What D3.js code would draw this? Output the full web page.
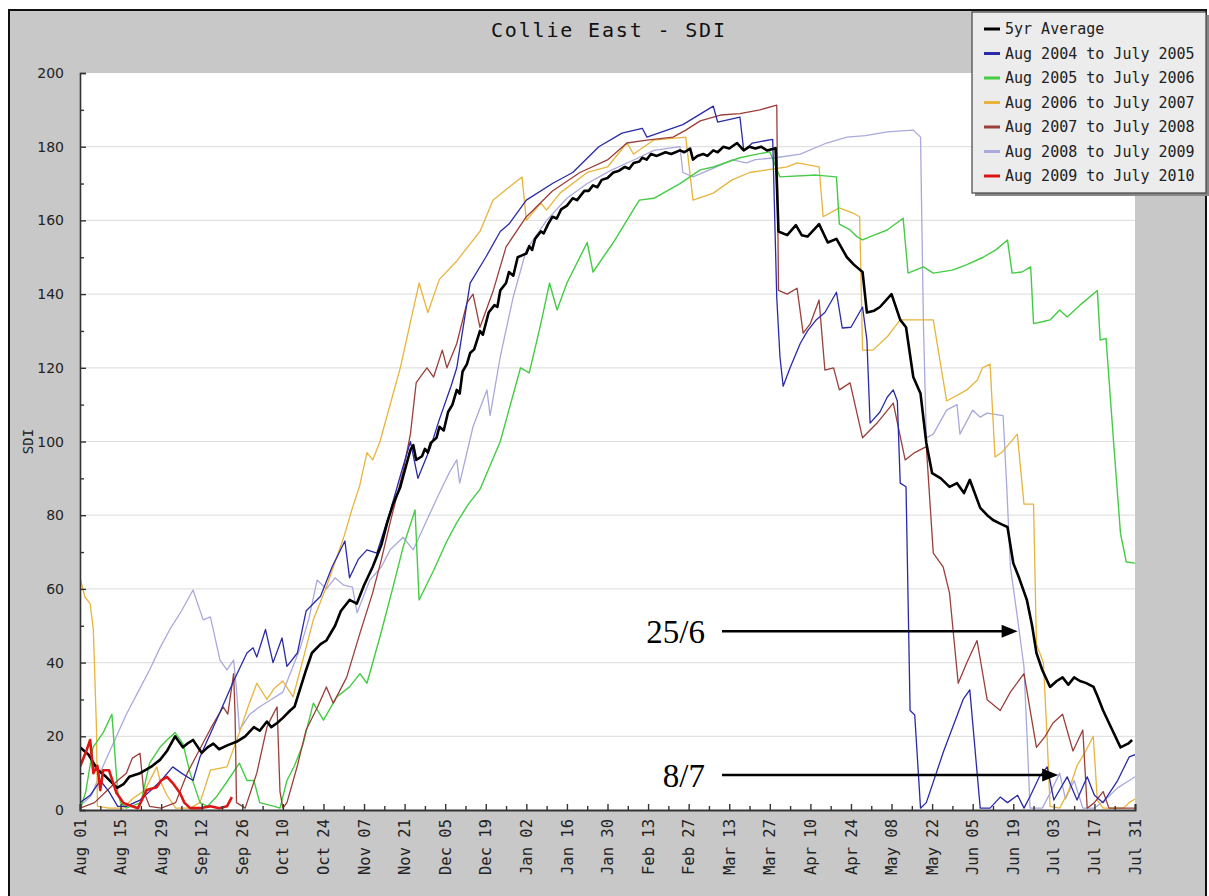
<!DOCTYPE html>
<html>
<head>
<meta charset="utf-8">
<script src="https://cdn.jsdelivr.net/npm/d3@7"></script>
<style>
  html, body { margin: 0; padding: 0; background: #ffffff; }
  svg { display: block; }
</style>
</head>
<body>
<svg id="chart" width="1209" height="896"></svg>
<script>
// Days are counted from Aug 01 (day 0) to Jul 31 (day 364); values are SDI.
const xTickLabels = ["Aug 01","Aug 15","Aug 29","Sep 12","Sep 26","Oct 10","Oct 24","Nov 07","Nov 21",
  "Dec 05","Dec 19","Jan 02","Jan 16","Jan 30","Feb 13","Feb 27","Mar 13","Mar 27","Apr 10","Apr 24",
  "May 08","May 22","Jun 05","Jun 19","Jul 03","Jul 17","Jul 31"];
const yTicks = [0, 20, 40, 60, 80, 100, 120, 140, 160, 180, 200];

const seriesNames = ["5yr Average","Aug 2004 to July 2005","Aug 2005 to July 2006","Aug 2006 to July 2007",
  "Aug 2007 to July 2008","Aug 2008 to July 2009","Aug 2009 to July 2010"];

const avg5yr = [[0,17],[3,15],[6,11],[9,9],[12.8,6],[15,7],[17,9],[20.7,10],[23,11],[25,12],[27.6,13.6],[30,16],
  [32.8,20],[35.5,17],[37,18],[39,19],[42,15.5],[44,17],[46,18],[48,16.5],[51,17.6],[54,18.5],[57,20],[60,22.5],
  [62,21.5],[64.5,24],[66,22.5],[68,23.6],[70,25],[72.5,27],[74,28],[76,33],[78,38],[80,42.6],[83,45],[85,46],
  [88,50],[90,54],[93,57],[95.5,56],[98,61],[101,66],[104,72],[106,78],[108,83],[110.5,87.6],[112,92],[114,97.7],
  [115,99],[116,95],[118,96],[119,98],[120,97],[121,99.6],[123,101],[124,104],[125.5,103],[127,108],[128.5,110],
  [130,114],[131,113],[132,119],[133.5,121],[134.6,124],[136,125],[138,130],[139,129],[141,135],[143,137],
  [144,136.5],[145,141],[147,143],[148,146],[149.5,145],[151,150],[152.5,150.5],[154,151],[155,153],[156,152],
  [157,155],[159,157],[160,156.5],[161.5,159],[163,161],[164.5,160.5],[166,163],[168,164],[170,166],[171.5,165.5],
  [174,168],[175.5,168],[177,169.5],[178.5,169],[180,171],[182,171.5],[184,173],[186,173.5],[188,174.5],
  [189.5,174],[191,175.6],[193,176],[194,177],[195.5,176.5],[197,178],[199,177.5],[202,178.5],[204,178],
  [207,179],[208.5,178.5],[210.5,179.5],[211.5,176.5],[213,177.5],[215,178],[216.5,177.5],[218.5,179],
  [220,178.5],[222,180],[224,179.5],[226.7,181],[229,179],[231,180],[233,179.5],[235,180],[237,179],[240,179.6],
  [241,157],[244,156],[247,158.7],[249,156],[251,155.6],[255,159],[258,154],[261,155],[264.6,150],[267,148],
  [270,146],[271.5,135],[274,135.5],[276,136.5],[280,140],[283,133],[285,131],[287.5,117.5],[290,113],
  [292,99.6],[294,91.4],[297,90],[300,87.7],[302.6,88.7],[305,86],[307,89.6],[310.6,82],[313,80],[315,78.7],
  [318,77.5],[320,76.8],[322,67],[324,63],[326.7,57],[328.5,50],[330,42.6],[332,38],[334.7,33.4],[337,35],
  [339,36],[341,34],[343,36],[345,35],[347,34.5],[349.7,33.4],[351,31],[353,27],[356,22],[359,17],[361.6,18],
  [363,19]];

const sdi2004 = [[0,2],[3.5,4],[7,8],[10,5],[13,1],[16,1],[20.7,2.7],[24,5],[28,8],[32,11.7],[35,10],[39,8],
  [41.4,14.4],[44,19],[48,26],[53,35],[57.6,42.6],[59.7,44],[61,41.5],[64,49],[66.6,40],[69.7,46.7],[71.4,39],
  [75,42.6],[78,54],[83,58],[87,66],[91.4,73],[93,63],[96,68],[99,70.6],[102.4,69.7],[107,81],[111,92],[114,100],
  [116.6,90],[121,98.6],[124,106],[128,115],[130,120],[134.6,143],[140,150],[145,157],[148,159],[154,165.5],
  [163,170],[170,173],[179,180],[187,183.7],[194,185],[195.6,182.6],[208,186],[218.5,191],[220,186.7],[227.7,188],
  [229,179],[232,181],[239,182],[240.4,139],[241.5,123],[242.6,115],[245,120],[248.5,126.6],[251,130],[254,133],
  [257,135],[261,140.5],[263,130.8],[266,131],[270,136.5],[271.5,127.5],[272.6,105],[276,108],[278.5,112],
  [280.6,114],[282,111],[283,88.7],[285,87.7],[286.4,27],[288,25.8],[290,0.5],[292,2],[298,16],[304.7,30],
  [307,32.6],[310.6,0.5],[314,0.5],[317.5,3.5],[320,2],[323.5,4],[325.7,0.5],[328,4],[331,9],[333.7,11.7],
  [336,2.7],[340.6,9],[344,2.7],[347.5,9],[350,4],[353,2],[358,8],[362,14.4],[364,15]];

const sdi2005 = [[0,0],[2,5],[4.5,17],[8,21],[11,26],[13,5],[14,2],[16,0.5],[21,2],[24,12.7],[27.6,17],[30,19],
  [32.8,21],[35.5,18],[38,10],[41.4,2],[44,1],[47,3.5],[51,8],[55,12.7],[57.6,8],[60,8],[62,2],[67,1],[69,0.5],
  [71.4,8],[74,12],[77,18],[80.5,29],[84,24.4],[88.6,30.7],[93,33.4],[96.6,37],[99,34.4],[103.5,47],[108,60.5],
  [111.5,71.4],[115.6,81.4],[117,57],[122,65],[126.6,73],[130,78],[134,83],[138,87],[145,100],[152,120],
  [155,118.6],[159,132],[162,143],[164.6,135.7],[168,143],[175,154],[177,146],[184,154],[191,163],[193,165.5],
  [198,166],[207,170],[214,173.7],[218.5,174.5],[227.7,177],[233.6,178],[238,178.6],[241.5,171.8],[254,172.3],
  [261,171.8],[262,159],[265.7,157.4],[268,155.6],[270,154.7],[274,156],[278.5,157.4],[284,160.6],[285.7,145.7],
  [291,147.4],[294.4,145.7],[301,146.5],[306,148],[311.6,150],[316,152],[320,154.7],[321.6,145.7],[325,146],
  [328,147.4],[329,132],[332,132.5],[334.7,133],[338,135.7],[340.6,133.8],[345,137],[351,141],[352,127.5],
  [354,128],[356.6,100],[359,75],[361,67.3],[364,67]];

const sdi2006 = [[0,63],[1.7,57.8],[3.5,56],[4.6,49],[5.7,21.7],[6,1],[10,0.5],[15,0.5],[18,3],[22.4,5.4],
  [26.5,11.7],[27.6,8],[30,4],[33,0.5],[38,0.5],[41.4,2],[45,10.8],[50.7,11.7],[55,21],[58,28],[61,34.4],
  [64.5,30],[67,33],[70,35],[73.5,30.7],[76,38],[80.5,51.6],[85,60.5],[91,74],[94,82],[96.5,88],[99,97],[101,95],
  [103.5,100],[110.5,120],[117,143],[120,135],[124,144],[130,149],[138,157],[142.5,165.5],[148,169],[152.5,171.8],
  [154,160],[159,164.7],[161,162.8],[165.6,167.4],[175,173],[182,174.5],[188.7,181],[191,178],[198,181.8],
  [209,182.6],[211.5,165.5],[218.5,167.4],[225,171],[231,173],[237,173.7],[244,174.5],[247.4,175.6],[255,174.5],
  [256.4,161],[262,163.4],[266.7,162],[269,161],[270,124.8],[273.6,124.8],[278.5,128.4],[283,133],[287.5,133],
  [294.4,133],[299,111],[306,114],[309.6,116.7],[311.4,120],[314,121],[315.7,95.8],[318,97],[323.4,102],
  [325.7,83],[329,83],[330,45],[332.4,40],[333.6,21],[334.7,1],[338,0.5],[341,5],[344,12],[347,16],[349.6,20],
  [351,2.7],[353,0.5],[360,0.5],[362,2],[364,3]];

const sdi2007 = [[0,0.5],[5,2],[9,5],[13,8],[16,10],[18,14],[20.7,15.4],[22,5],[24,1],[28,0.5],[33,2],[37,10],
  [41,16],[45,22],[49.4,28],[51,26],[53,37],[53.5,26],[54,2],[57,0.5],[61,10],[64.5,22.5],[66,25],[68,28],[69,5],
  [70,0.5],[71.4,2],[75,12],[78,21.7],[82,28],[85,33.4],[87.4,29],[92,36],[96.6,48],[101,59],[104,68],[107,78],
  [111.5,92],[114,102],[116,116],[119.7,120],[122,117.5],[125,124.8],[126.6,120],[130,126.6],[133.5,137.6],
  [135.6,140],[138,131],[142.6,141],[147,152.8],[154,161],[156.4,162.8],[163,168],[172.5,173],[182,176.4],
  [188.7,181],[195.6,181.8],[204.6,182.6],[209,184.5],[214,187],[221,188.6],[227.7,189],[234.6,190],[240.4,191.3],
  [241,141],[244,140],[247.4,141.6],[249.5,129.4],[252,132],[255,138.4],[257,119.4],[260,120],[262,114],
  [265.7,115.9],[270,101],[275,105],[280.6,110.4],[284.7,95],[288,97],[292,98.6],[294.4,69.7],[297.8,66],
  [300,58.9],[303,34.4],[306,40],[309.5,46],[313,29.9],[317.5,27],[321,32],[325.7,37],[330,17],[333,20],
  [335.7,23.6],[339,26],[342.6,16],[346,21.7],[347.5,0.5],[350,2],[353,5],[355,0.5],[364,0.5]];

const sdi2008 = [[0,1],[4,4],[8,12],[12,19],[16,26],[20,32],[24,38],[27.6,44],[31,49],[35,54],[39,59.7],
  [42.5,51.6],[45,52.4],[48.3,40.7],[50.7,38],[53,40.7],[54,32.6],[55,21.7],[58.6,26],[62,28],[66,30],[70,32],
  [73,38],[76,44],[79,52],[81.8,62.4],[85,60],[88,63],[91,61],[94,60.5],[95.6,53.5],[100,62.4],[104,66],
  [107,70.6],[111.5,74],[115,70.6],[119.7,78.7],[124,86],[127.7,92],[130,95],[131,88.7],[135.6,104],[140.4,114],
  [141.5,107],[145,123],[149.4,139],[154,152],[161,160],[168,166],[175,170],[183,173.5],[191,176.4],[198,179],
  [207,180],[208,173],[211.5,171.8],[218,174],[225,176.4],[230,175.6],[233,176.5],[240,177],[248.5,178],
  [257.6,181],[264.6,182.6],[271,183],[278.5,184],[287.5,184.5],[290,182.6],[291,132],[292,101],[294.4,102],
  [299,108.5],[302.6,110],[303.6,102],[308,108.5],[310.6,106.6],[313,107.7],[318.5,107],[319.8,86.8],[321,66],
  [323.4,52.4],[325.7,38.8],[326.7,21],[327.8,0.5],[332,0.5],[335,5],[338,10],[340,3],[343,8],[346,0.5],
  [350,0.5],[354,3],[358,6],[362,8],[364,9]];

const sdi2009 = [[0,11.7],[2.3,16.3],[3.5,19],[4.6,10],[6,12],[7,5.4],[8,10.8],[10,10.8],[12.6,4.6],[15,1.9],
  [18,1],[20,0.5],[23,5.4],[26.5,6.2],[28,8],[30,9],[32,7.3],[34.5,4.6],[36,2],[38,0.5],[41.4,0.5],[45,1],
  [48,0.5],[50.7,1],[52.4,3.5]];

const seriesData = [avg5yr, sdi2004, sdi2005, sdi2006, sdi2007, sdi2008, sdi2009];
const seriesColors = ["#000000", "#2a2aa8", "#44cc44", "#e8b43c", "#9a3f3a", "#a9a9dc", "#dd1515"];
const seriesWidths = [2.6, 1.3, 1.4, 1.3, 1.3, 1.3, 2.6];
// draw order: thin lines first, thick lines on top
const drawOrder = [5, 3, 2, 4, 1, 0, 6];

// annotation arrows: label, tip day, y value of the arrow
const noteLabels = ["25/6", "8/7"];
const noteTipDays = [323.5, 337.5];
const noteYValues = [48.5, 9.5];

const svg = d3.select("#chart");
const W = 1209, H = 896;
const plot = { left: 80, right: 1135, top: 73, bottom: 810 };

const x = d3.scaleLinear().domain([0, 364]).range([plot.left, plot.right]);
const y = d3.scaleLinear().domain([0, 200]).range([plot.bottom, plot.top]);

// frame
svg.append("rect").attr("x", 0).attr("y", 0).attr("width", W).attr("height", H).attr("fill", "#ffffff");
svg.append("rect").attr("x", 9).attr("y", 10).attr("width", 1197).attr("height", 900)
  .attr("fill", "#c8c8c8").attr("stroke", "#111").attr("stroke-width", 2);

// plot area
svg.append("rect").attr("x", plot.left).attr("y", plot.top)
  .attr("width", plot.right - plot.left).attr("height", plot.bottom - plot.top).attr("fill", "#ffffff");

// grid
svg.append("g").selectAll("line").data(yTicks.filter(v => v > 0 && v < 200)).join("line")
  .attr("x1", plot.left).attr("x2", plot.right)
  .attr("y1", d => y(d)).attr("y2", d => y(d))
  .attr("stroke", "#e2e2e2").attr("stroke-width", 1.2);

// series
svg.append("clipPath").attr("id", "clip").append("rect")
  .attr("x", plot.left).attr("y", plot.top - 2)
  .attr("width", plot.right - plot.left).attr("height", plot.bottom - plot.top + 2);

const line = d3.line().x(d => x(d[0])).y(d => y(d[1]));
const lines = svg.append("g").attr("clip-path", "url(#clip)");
drawOrder.forEach(i => {
  lines.append("path").datum(seriesData[i])
    .attr("d", line).attr("fill", "none")
    .attr("stroke", seriesColors[i]).attr("stroke-width", seriesWidths[i])
    .attr("stroke-linejoin", "round");
});

// y axis
const yAxis = svg.append("g").attr("transform", `translate(${plot.left},0)`)
  .call(d3.axisRight(y).tickValues(d3.range(0, 201, 10)).tickSize(6).tickFormat(""));
yAxis.select(".domain").attr("stroke", "#333").attr("stroke-width", 1.6);
yAxis.selectAll(".tick line").attr("stroke", "#333").attr("stroke-width", 1.4)
  .attr("x2", d => d % 20 === 0 ? 6 : 4);
svg.append("g").selectAll("text").data(yTicks).join("text")
  .attr("x", plot.left - 16).attr("y", d => y(d)).attr("dy", "0.36em")
  .attr("text-anchor", "end").attr("font-family", "DejaVu Sans, sans-serif")
  .attr("font-size", 14).attr("fill", "#222").text(d => d);

svg.append("text")
  .attr("transform", `translate(33,${(plot.top + plot.bottom) / 2}) rotate(-90)`)
  .attr("text-anchor", "middle").attr("font-family", "DejaVu Sans Mono, monospace")
  .attr("font-size", 14).attr("fill", "#222").text("SDI");

// x axis
const xAxis = svg.append("g").attr("transform", `translate(0,${plot.bottom})`)
  .call(d3.axisTop(x).tickValues(d3.range(0, 365, 7)).tickSize(6).tickFormat(""));
xAxis.select(".domain").attr("stroke", "#333").attr("stroke-width", 2);
xAxis.selectAll(".tick line").attr("stroke", "#333").attr("stroke-width", 1.4)
  .attr("y2", d => d % 14 === 0 ? -6 : -4);
svg.append("g").selectAll("text").data(xTickLabels).join("text")
  .attr("transform", (d, i) => `translate(${x(i * 14)},${plot.bottom + 9}) rotate(-90)`)
  .attr("dy", "0.36em").attr("text-anchor", "end")
  .attr("font-family", "DejaVu Sans Mono, monospace").attr("font-size", 15.5)
  .attr("fill", "#222").text(d => d);

// title
svg.append("text").attr("x", 608).attr("y", 37).attr("text-anchor", "middle")
  .attr("font-family", "DejaVu Sans Mono, monospace").attr("font-size", 20)
  .attr("textLength", 234).attr("lengthAdjust", "spacing")
  .attr("fill", "#111").text("Collie East - SDI");

// legend
const lg = svg.append("g");
lg.append("rect").attr("x", 975).attr("y", 15).attr("width", 235).attr("height", 181).attr("fill", "#888");
lg.append("rect").attr("x", 972).attr("y", 12).attr("width", 234).attr("height", 181)
  .attr("fill", "#ececec").attr("stroke", "#444").attr("stroke-width", 1.2);
seriesNames.forEach((name, i) => {
  const cy = 29 + i * 24.5;
  lg.append("line").attr("x1", 984).attr("x2", 1000).attr("y1", cy).attr("y2", cy)
    .attr("stroke", seriesColors[i]).attr("stroke-width", 3);
  lg.append("text").attr("x", 1005).attr("y", cy).attr("dy", "0.36em")
    .attr("font-family", "DejaVu Sans Mono, monospace").attr("font-size", 15)
    .attr("fill", "#222").text(name);
});

// annotations
const notes = svg.append("g");
noteLabels.forEach((label, i) => {
  const yy = y(noteYValues[i]);
  const tip = x(noteTipDays[i]);
  notes.append("text").attr("x", 705).attr("y", yy).attr("dy", "0.35em")
    .attr("text-anchor", "end").attr("font-family", "Liberation Serif, Times New Roman, serif")
    .attr("font-size", 33).attr("fill", "#000").text(label);
  notes.append("line").attr("x1", 722).attr("x2", tip - 14).attr("y1", yy).attr("y2", yy)
    .attr("stroke", "#000").attr("stroke-width", 2.5);
  notes.append("path")
    .attr("d", `M${tip},${yy} L${tip - 16},${yy - 6.5} L${tip - 16},${yy + 6.5} Z`)
    .attr("fill", "#000");
});
</script>
</body>
</html>
